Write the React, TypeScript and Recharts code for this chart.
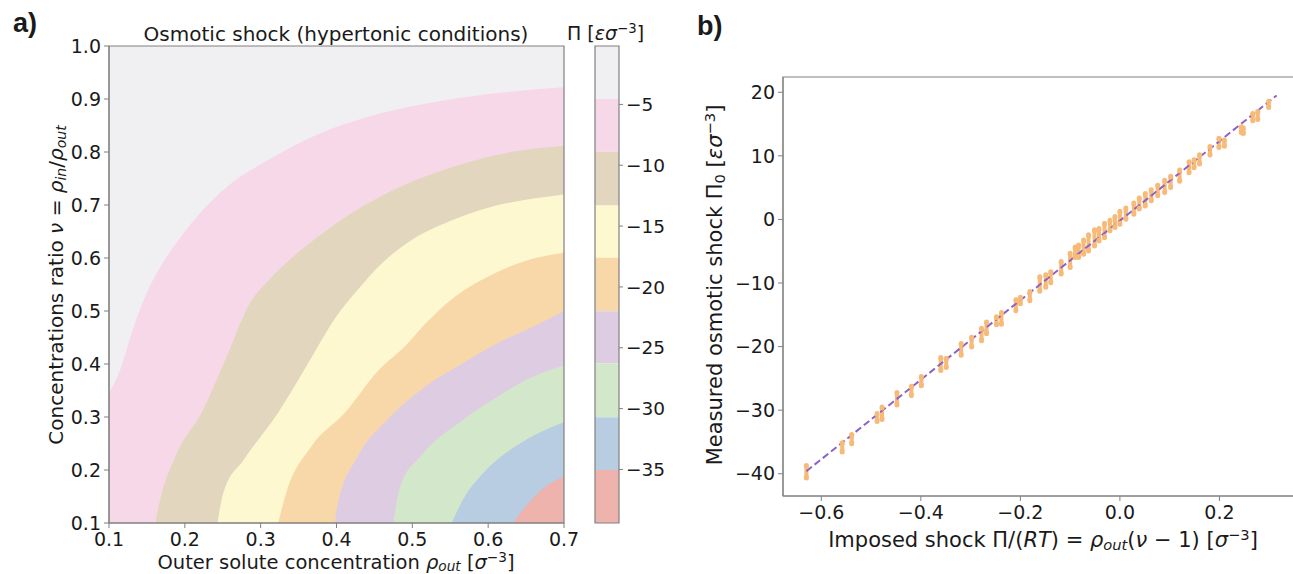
import React from 'react';
import {
  ComposedChart, Area, XAxis, YAxis, CartesianGrid, ReferenceArea,
  Scatter, Line, ErrorBar,
} from 'recharts';

// ---------- panel a: contour bands ----------
const rhoTicks = [0.1, 0.2, 0.3, 0.4, 0.5, 0.6, 0.7];
const nuTicks = [0.1, 0.2, 0.3, 0.4, 0.5, 0.6, 0.7, 0.8, 0.9, 1.0];

// band colours, lightest (top-left) to darkest (bottom-right)
const bandColors = ['#f0f0f2', '#f6d8e8', '#e2d7be', '#fdf8d0', '#f8d8a8', '#decde2', '#d3e8ca', '#b8cce2', '#efb3ad'];

// contour boundaries as [rho_out, nu]
const edge1: [number, number][] = [[0.1, 0.345], [0.115, 0.39], [0.128, 0.45], [0.14, 0.5], [0.155, 0.55], [0.175, 0.6], [0.2, 0.65], [0.23, 0.7], [0.256, 0.735], [0.31, 0.785], [0.378, 0.835], [0.456, 0.872], [0.567, 0.903], [0.7, 0.922]];
const edge2: [number, number][] = [[0.161, 0.1], [0.166, 0.135], [0.19, 0.233], [0.222, 0.308], [0.251, 0.4], [0.288, 0.52], [0.31, 0.557], [0.345, 0.605], [0.38, 0.645], [0.415, 0.68], [0.45, 0.71], [0.485, 0.735], [0.567, 0.778], [0.63, 0.8], [0.7, 0.812]];
const edge3: [number, number][] = [[0.243, 0.1], [0.251, 0.158], [0.278, 0.22], [0.323, 0.308], [0.362, 0.4], [0.4, 0.49], [0.428, 0.54], [0.46, 0.59], [0.5, 0.635], [0.55, 0.67], [0.6, 0.695], [0.65, 0.71], [0.7, 0.72]];
const edge4: [number, number][] = [[0.323, 0.1], [0.334, 0.158], [0.367, 0.245], [0.411, 0.308], [0.456, 0.389], [0.49, 0.433], [0.52, 0.48], [0.55, 0.52], [0.6, 0.565], [0.65, 0.595], [0.7, 0.61]];
const edge5: [number, number][] = [[0.398, 0.1], [0.401, 0.132], [0.428, 0.226], [0.467, 0.295], [0.511, 0.351], [0.567, 0.402], [0.62, 0.445], [0.65, 0.464], [0.7, 0.5]];
const edge6: [number, number][] = [[0.475, 0.1], [0.484, 0.169], [0.511, 0.226], [0.567, 0.295], [0.62, 0.345], [0.65, 0.37], [0.7, 0.397]];
const edge7: [number, number][] = [[0.552, 0.1], [0.567, 0.145], [0.594, 0.195], [0.65, 0.257], [0.7, 0.29]];
const edge8: [number, number][] = [[0.633, 0.1], [0.65, 0.132], [0.667, 0.158], [0.7, 0.188]];
const edges = [edge1, edge2, edge3, edge4, edge5, edge6, edge7, edge8];

// colorbar
const cbLevels = [-0.2, -4.55, -8.9, -13.3, -17.6, -22.0, -26.3, -30.7, -35.05, -39.4];
const cbTicks = [-5, -10, -15, -20, -25, -30, -35];

// ---------- panel b: measured vs imposed ----------
const shockX = [-0.63, -0.558, -0.539, -0.488, -0.478, -0.448, -0.419, -0.399, -0.36, -0.349, -0.319, -0.298, -0.278, -0.268, -0.248, -0.238, -0.209, -0.2, -0.181, -0.161, -0.149, -0.139, -0.118, -0.1, -0.09, -0.083, -0.073, -0.063, -0.051, -0.042, -0.031, -0.02, -0.01, 0.0, 0.012, 0.028, 0.039, 0.051, 0.063, 0.076, 0.09, 0.102, 0.12, 0.139, 0.149, 0.16, 0.181, 0.199, 0.21, 0.244, 0.248, 0.267, 0.277, 0.299];
const measLo = [-40.6, -36.5, -35.2, -31.7, -31.4, -29.1, -27.6, -26.1, -23.7, -23.2, -21.3, -20.0, -19.0, -17.9, -16.5, -16.4, -14.3, -13.2, -12.7, -11.2, -10.6, -9.9, -8.5, -7.5, -5.9, -5.9, -5.4, -4.9, -4.1, -3.3, -2.8, -1.7, -1.2, -0.7, 0.1, 0.9, 1.7, 2.2, 3.0, 3.8, 4.3, 5.1, 6.1, 7.4, 8.2, 8.8, 10.2, 11.4, 11.6, 13.7, 13.6, 15.6, 15.8, 17.7];
const measHi = [-38.8, -35.2, -33.9, -30.6, -29.6, -27.3, -26.3, -24.8, -21.8, -21.9, -19.6, -18.6, -17.2, -16.2, -15.4, -14.7, -12.7, -12.3, -11.4, -9.1, -8.8, -8.3, -6.7, -5.4, -4.4, -4.1, -3.3, -2.5, -1.7, -1.5, -0.7, -0.2, 0.4, 1.2, 1.7, 2.5, 3.3, 4.0, 4.6, 5.3, 6.1, 6.7, 7.7, 9.0, 9.3, 10.1, 11.4, 12.7, 12.4, 14.5, 14.3, 16.6, 16.9, 18.5];
const fitX = [-0.63, 0.315];
const fitY = [-39.6, 19.5];
const impTicks = [-0.6, -0.4, -0.2, 0, 0.2];
const measTicks = [-40, -30, -20, -10, 0, 10, 20];

const minus = (v: number, d: number) => (v < 0 ? '\u2212' + Math.abs(v).toFixed(d) : v.toFixed(d));

const INK = '#1a1a1a';
const SPINE = '#808080';
const ORANGE = '#f7ba78';
const tickStyle = { fill: INK, fontSize: 19 };

const sub = (t: string, italic = true) => (
  <span style={{ fontSize: '0.7em', position: 'relative', top: '0.18em', fontStyle: italic ? 'italic' : 'normal' }}>{t}</span>
);
const sup = (t: string) => <span style={{ fontSize: '0.7em', position: 'relative', top: '-0.5em' }}>{t}</span>;
const it = (t: string) => <span style={{ fontStyle: 'italic' }}>{t}</span>;

const Label = ({ x, y, size = 20, rotate = false, anchor = 'middle', children, bold = false, family }: any) => (
  <div style={{
    position: 'absolute', left: x, top: y, fontSize: size, lineHeight: 1, whiteSpace: 'nowrap', color: INK,
    fontWeight: bold ? 'bold' : 'normal', fontFamily: family,
    transform: rotate ? 'translate(-50%, -50%) rotate(-90deg)' : anchor === 'middle' ? 'translate(-50%, 0)' : undefined,
  }}>{children}</div>
);

const Bar4 = (p: any) => <rect x={p.cx - 2.5} y={p.cy - 3} width={5} height={6} rx={2.5} fill={ORANGE} />;

export default function App() {
  const edgeData = edges.map((e) => e.map(([x, y]) => ({ x, y })));
  const bands = bandColors.map((c, i) => ({ hi: cbLevels[i], lo: cbLevels[i + 1], c }));
  const pts = shockX.map((x, i) => ({ x, y: measLo[i], err: [0, measHi[i] - measLo[i]] }));
  const ptsHi = shockX.map((x, i) => ({ x, y: measHi[i] }));
  const fit = fitX.map((x, i) => ({ x, y: fitY[i] }));

  return (
    <div style={{ position: 'absolute', left: 0, top: 0, width: 1293, height: 574, overflow: 'hidden', background: '#fff', fontFamily: '"DejaVu Sans", sans-serif' }}>
      {/* panel a */}
      <div style={{ position: 'absolute', left: 0, top: 0 }}>
        <ComposedChart width={600} height={574} margin={{ top: 46, right: 36, bottom: 21, left: 0 }}>
          <CartesianGrid horizontal={false} vertical={false} fill={bandColors[0]} />
          <XAxis dataKey="x" type="number" domain={[0.1, 0.7]} ticks={rhoTicks} allowDataOverflow height={30}
            tickSize={5} tickMargin={5} tickFormatter={(v) => v.toFixed(1)} stroke={SPINE} tick={tickStyle} />
          <YAxis type="number" domain={[0.1, 1.0]} ticks={nuTicks} allowDataOverflow width={109}
            tickSize={5} tickMargin={3} tickFormatter={(v) => v.toFixed(1)} stroke={SPINE} tick={tickStyle} />
          {edgeData.map((d, i) => (
            <Area key={i} data={d} dataKey="y" type="monotone" baseValue={0.1} fill={bandColors[i + 1]}
              fillOpacity={1} stroke="none" isAnimationActive={false} />
          ))}
          <ReferenceArea x1={0.1} x2={0.7} y1={0.1} y2={1.0} fill="none" stroke={SPINE} strokeWidth={1.2} />
        </ComposedChart>
      </div>

      {/* colorbar */}
      <div style={{ position: 'absolute', left: 560, top: 0 }}>
        <ComposedChart width={130} height={574} data={bands} margin={{ top: 46, right: 10, bottom: 51, left: 35 }}>
          <XAxis type="number" dataKey="c" domain={[0, 1]} hide allowDataOverflow />
          <YAxis type="number" orientation="right" domain={[-39.4, -0.2]} ticks={cbTicks} allowDataOverflow width={61}
            tickSize={4} tickMargin={3} axisLine={false} stroke={SPINE} tick={{ fill: INK, fontSize: 18.5 }}
            tickFormatter={(v) => minus(v, 0)} />
          {bands.map((b, i) => (
            <ReferenceArea key={i} x1={0} x2={1} y1={b.lo} y2={b.hi} fill={b.c} fillOpacity={1} stroke="none" />
          ))}
          <ReferenceArea x1={0} x2={1} y1={-39.4} y2={-0.2} fill="none" stroke={SPINE} strokeWidth={1.2} />
        </ComposedChart>
      </div>

      {/* panel b */}
      <div style={{ position: 'absolute', left: 680, top: 0 }}>
        <ComposedChart width={630} height={574} margin={{ top: 77, right: 2, bottom: 48, left: 0 }}>
          <XAxis dataKey="x" type="number" domain={[-0.677, 0.378]} ticks={impTicks} allowDataOverflow height={30}
            tickSize={5} tickMargin={4.5} stroke={SPINE} tick={tickStyle} tickFormatter={(v) => minus(v, 1)} />
          <YAxis dataKey="y" type="number" domain={[-43.5, 22.4]} ticks={measTicks} allowDataOverflow width={103}
            tickSize={5} tickMargin={3} stroke={SPINE} tick={tickStyle} tickFormatter={(v) => minus(v, 0)} />
          <Scatter data={pts} shape={Bar4} isAnimationActive={false}>
            <ErrorBar dataKey="err" direction="y" width={0} stroke={ORANGE} strokeWidth={4} />
          </Scatter>
          <Scatter data={ptsHi} shape={Bar4} isAnimationActive={false} />
          <Line data={fit} dataKey="y" type="linear" stroke="#8a62c8" strokeWidth={2} strokeDasharray="7 3.5"
            dot={false} isAnimationActive={false} />
          <ReferenceArea x1={-0.677} x2={0.378} y1={-43.5} y2={22.4} fill="none" stroke={SPINE} strokeWidth={1.2} />
        </ComposedChart>
      </div>

      {/* texts */}
      <Label x={13} y={10} size={27} bold anchor="start" family='"Liberation Sans", Arial, sans-serif'>a)</Label>
      <Label x={697} y={13} size={27} bold anchor="start" family='"Liberation Sans", Arial, sans-serif'>b)</Label>
      <Label x={336} y={24}>Osmotic shock (hypertonic conditions)</Label>
      <Label x={567} y={24} anchor="start" size={19}>Π [{it('εσ')}{sup('\u22123')}]</Label>
      <Label x={56} y={285} rotate>Concentrations ratio {it('ν')} = {it('ρ')}{sub('in')}/{it('ρ')}{sub('out')}</Label>
      <Label x={336} y={553} size={19.5}>Outer solute concentration {it('ρ')}{sub('out')} [{it('σ')}{sup('\u22123')}]</Label>
      <Label x={715} y={285} rotate size={21}>Measured osmotic shock Π{sub('0', false)} [{it('εσ')}{sup('\u22123')}]</Label>
      <Label x={1043} y={530} size={21}>Imposed shock Π/({it('RT')}) = {it('ρ')}{sub('out')}({it('ν')} − 1) [{it('σ')}{sup('\u22123')}]</Label>
    </div>
  );
}
